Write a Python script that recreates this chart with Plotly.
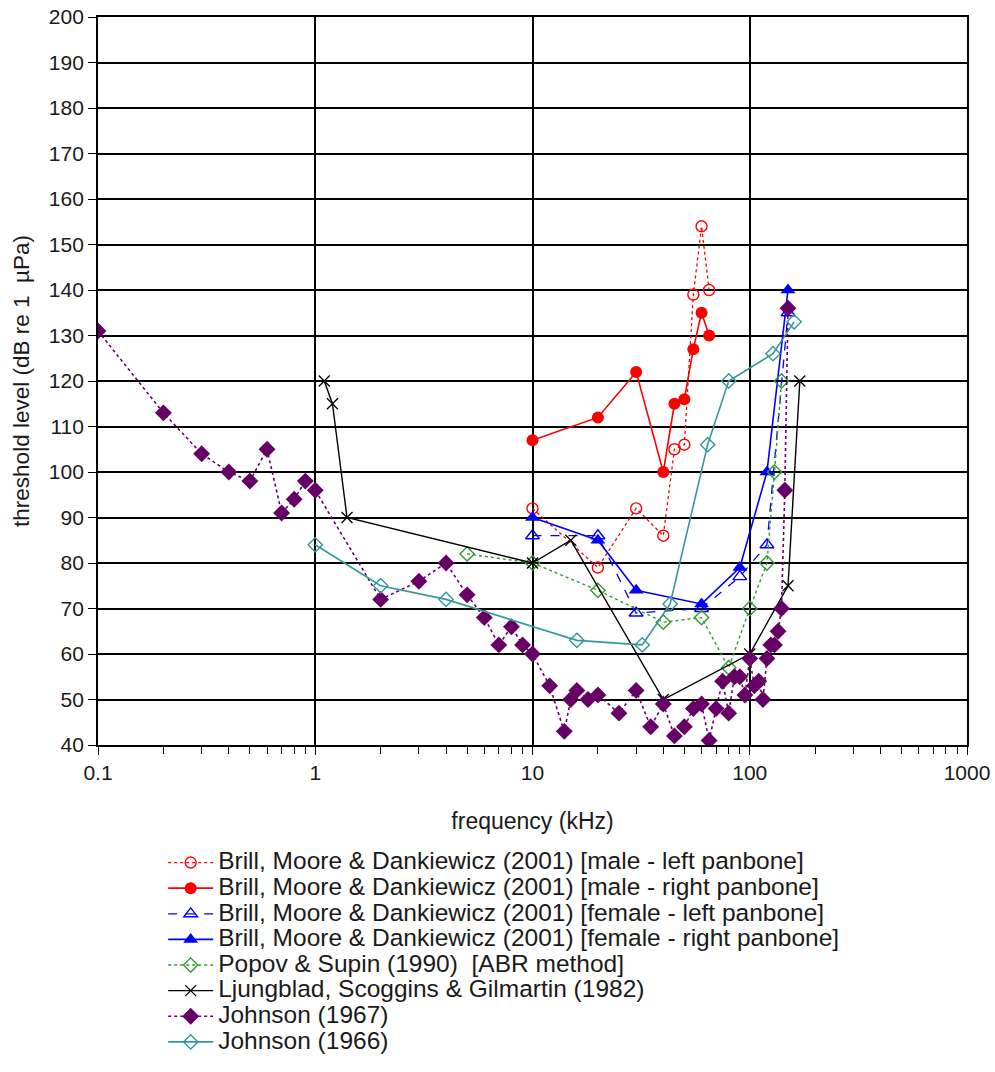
import plotly.graph_objects as go

# ---------------- data (frequency in kHz, threshold in dB re 1 µPa) ----------------
male_left_f = [10, 20, 30, 40, 45, 50, 55, 60, 65]
male_left_db = [92, 79, 92, 86, 105, 106, 139, 154, 140]

male_right_f = [10, 20, 30, 40, 45, 50, 55, 60, 65]
male_right_db = [107, 112, 122, 100, 115, 116, 127, 135, 130]

female_left_f = [10, 20, 30, 60, 90, 120, 150]
female_left_db = [86, 86, 69, 70, 77, 84, 135]

female_right_f = [10, 20, 30, 60, 90, 120, 150]
female_right_db = [90, 85, 74, 71, 79, 100, 140]

popov_f = [5, 10, 20, 40, 60, 80, 100, 120, 130, 140]
popov_db = [82, 80, 74, 67, 68, 57, 70, 80, 100, 120]

ljung_f = [1.1, 1.2, 1.4, 10, 15, 40, 100, 150, 170]
ljung_db = [120, 115, 90, 80, 85, 50, 60, 75, 120]

johnson67_f = [0.1, 0.2, 0.3, 0.4, 0.5, 0.6, 0.7, 0.8, 0.9, 1, 2, 3, 4, 5, 6, 7, 8, 9, 10,
               12, 14, 15, 16, 18, 20, 25, 30, 35, 40, 45, 50, 55, 60, 65, 70, 75, 80, 85,
               90, 95, 100, 105, 110, 115, 120, 125, 130, 135, 140, 145, 150]
johnson67_db = [131, 113, 104, 100, 98, 105, 91, 94, 98, 96, 72, 76, 80, 73, 68, 62, 66, 62, 60,
                53, 43, 50, 52, 50, 51, 47, 52, 44, 49, 42, 44, 48, 49, 41, 48, 54, 47, 55,
                55, 51, 59, 53, 54, 50, 59, 62, 62, 65, 70, 96, 136]

johnson66_f = [1, 2, 4, 16, 32, 43, 64, 80, 128, 160]
johnson66_db = [84, 75, 72, 63, 62, 71, 106, 120, 126, 133]

x_tickvals = [0.1, 1, 10, 100, 1000]
x_ticktext = ["0.1", "1", "10", "100", "1000"]
y_tickvals = list(range(40, 201, 10))

names = [
    "Brill, Moore & Dankiewicz (2001) [male - left panbone]",
    "Brill, Moore & Dankiewicz (2001) [male - right panbone]",
    "Brill, Moore & Dankiewicz (2001) [female - left panbone]",
    "Brill, Moore & Dankiewicz (2001) [female - right panbone]",
    "Popov & Supin (1990)  [ABR method]",
    "Ljungblad, Scoggins & Gilmartin (1982)",
    "Johnson (1967)",
    "Johnson (1966)",
]

FONT = "Liberation Sans, Arial, sans-serif"
TXT = "#1a1a1a"
RED = "#FF0000"
BLUE = "#0000FF"
GREEN = "#339933"
PURPLE = "#660066"
TEAL = "#339999"


def lbl(s):
    return '<span style="font-size:24.5px">' + s + "</span>"


fig = go.Figure()

fig.add_trace(go.Scatter(
    x=male_left_f, y=male_left_db, name=lbl(names[0]), mode="lines+markers",
    line=dict(color=RED, width=1.3, dash="dot"),
    marker=dict(symbol="circle-open", size=11, color=RED, line=dict(width=1.4))))

fig.add_trace(go.Scatter(
    x=male_right_f, y=male_right_db, name=lbl(names[1]), mode="lines+markers",
    line=dict(color=RED, width=1.6),
    marker=dict(symbol="circle", size=12, color=RED)))

fig.add_trace(go.Scatter(
    x=female_left_f, y=female_left_db, name=lbl(names[2]), mode="lines+markers",
    line=dict(color=BLUE, width=1.3, dash="dash"),
    marker=dict(symbol="triangle-up-open", size=12, color=BLUE, line=dict(width=1.4))))

fig.add_trace(go.Scatter(
    x=female_right_f, y=female_right_db, name=lbl(names[3]), mode="lines+markers",
    line=dict(color=BLUE, width=1.6),
    marker=dict(symbol="triangle-up", size=13, color=BLUE)))

fig.add_trace(go.Scatter(
    x=popov_f, y=popov_db, name=lbl(names[4]), mode="lines+markers",
    line=dict(color=GREEN, width=1.4, dash="dot"),
    marker=dict(symbol="diamond-open", size=11, color=GREEN, line=dict(width=1.4))))

fig.add_trace(go.Scatter(
    x=ljung_f, y=ljung_db, name=lbl(names[5]), mode="lines+markers",
    line=dict(color="black", width=1.4),
    marker=dict(symbol="x-thin-open", size=11, color="black", line=dict(width=1.3, color="black"))))

fig.add_trace(go.Scatter(
    x=johnson67_f, y=johnson67_db, name=lbl(names[6]), mode="lines+markers",
    line=dict(color=PURPLE, width=1.6, dash="dot"),
    marker=dict(symbol="diamond", size=13, color=PURPLE)))

fig.add_trace(go.Scatter(
    x=johnson66_f, y=johnson66_db, name=lbl(names[7]), mode="lines+markers",
    line=dict(color=TEAL, width=1.6),
    marker=dict(symbol="diamond-open", size=11, color=TEAL, line=dict(width=1.4))))

fig.update_layout(
    width=995, height=1072,
    margin=dict(l=98, r=28, t=17, b=327, autoexpand=False),
    paper_bgcolor="white", plot_bgcolor="white",
    font=dict(family=FONT, color=TXT, size=21),
    showlegend=True,
    legend=dict(
        x=0.075, y=-0.137, xanchor="left", yanchor="top",
        font=dict(family=FONT, size=17.4, color=TXT),
        bgcolor="rgba(0,0,0,0)", borderwidth=0, itemwidth=45,
        tracegroupgap=0,
    ),
)

fig.update_xaxes(
    type="log", range=[-1, 3], automargin=False,
    tickvals=x_tickvals, ticktext=x_ticktext,
    showgrid=True, gridcolor="black", gridwidth=1.8,
    showline=True, linecolor="black", linewidth=1.8, mirror=True,
    ticks="outside", ticklen=8, tickcolor="black", tickwidth=1.3,
    minor=dict(ticks="outside", ticklen=7, tickcolor="black", tickwidth=1.3,
               dtick="D1", showgrid=False),
    tickfont=dict(family=FONT, size=21, color=TXT),
    title=dict(text="frequency (kHz)", font=dict(family=FONT, size=23, color=TXT), standoff=30),
    zeroline=False,
)

fig.update_yaxes(
    range=[40, 200], tickvals=y_tickvals, automargin=False,
    showgrid=True, gridcolor="black", gridwidth=1.8,
    showline=True, linecolor="black", linewidth=1.8, mirror=True,
    ticks="outside", ticklen=8, tickcolor="black", tickwidth=1.3,
    tickfont=dict(family=FONT, size=21, color=TXT),
    title=dict(text="threshold level (dB re 1  µPa)", font=dict(family=FONT, size=22.5, color=TXT), standoff=13),
    zeroline=False,
)

fig.write_html("out.html", config={"displayModeBar": False},
               post_script="document.body.style.margin='0';")
